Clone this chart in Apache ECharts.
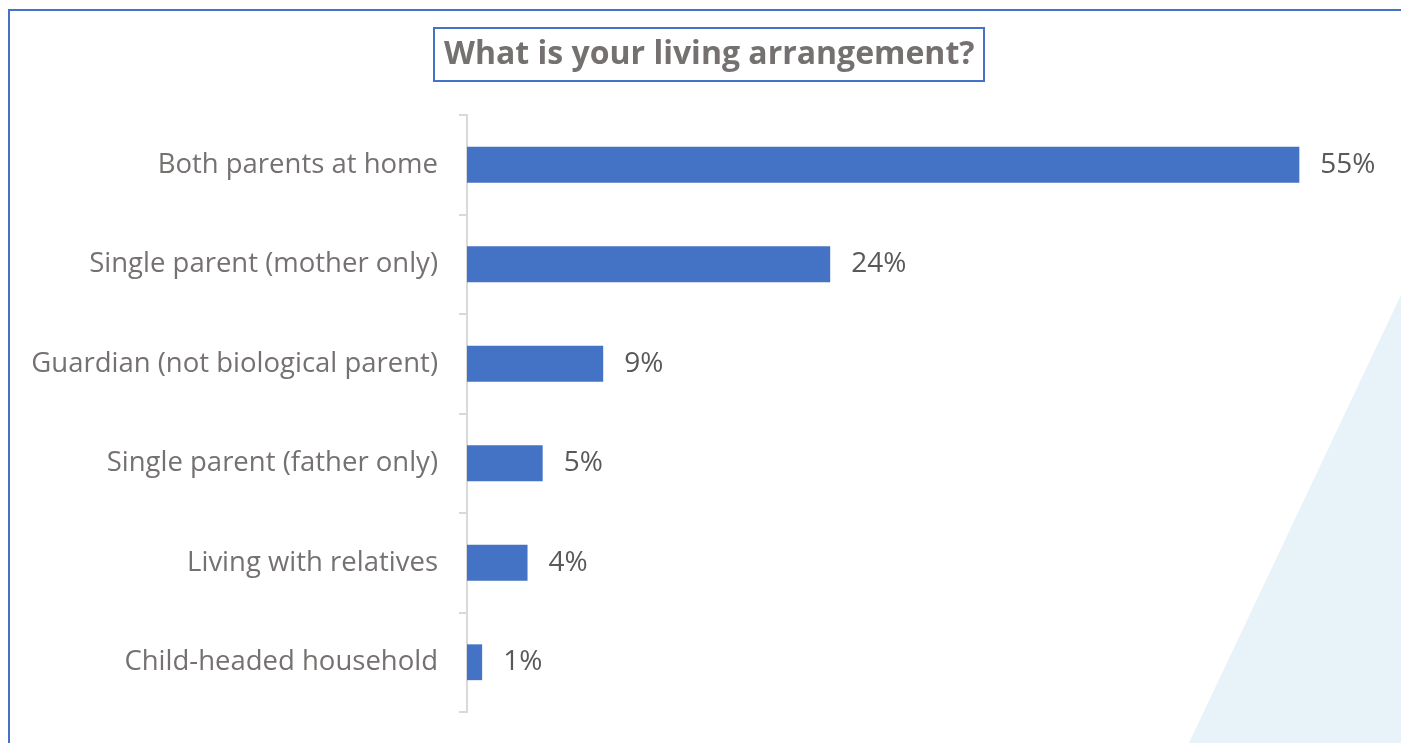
<!DOCTYPE html>
<html>
<head>
<meta charset="utf-8">
<script src="https://cdn.jsdelivr.net/npm/echarts@6/dist/echarts.min.js"></script>
<style>
  html, body { margin: 0; padding: 0; background: #ffffff; }
  #chart { width: 1401px; height: 743px; }
</style>
</head>
<body>
<div id="chart"></div>
<script>
// Survey answers, top to bottom
const categories = [
  'Both parents at home',
  'Single parent (mother only)',
  'Guardian (not biological parent)',
  'Single parent (father only)',
  'Living with relatives',
  'Child-headed household'
];
// Share of respondents, in percent
const shares = [55, 24, 9, 5, 4, 1];
const titleText = 'What is your living arrangement?';

const chart = echarts.init(document.getElementById('chart'), null, { renderer: 'canvas' });

chart.setOption({
  backgroundColor: '#ffffff',
  animation: false,
  title: {
    text: titleText,
    left: 434,
    top: 28,
    padding: [9, 10, 9, 10],
    borderColor: '#4472C4',
    borderWidth: 2,
    textStyle: {
      fontFamily: 'Open Sans',
      fontWeight: 'bold',
      fontSize: 32,
      lineHeight: 35,
      color: '#767171'
    }
  },
  graphic: [
    {
      type: 'polygon',
      z: -10,
      silent: true,
      shape: { points: [[1401, 295], [1189, 743], [1401, 743]] },
      style: { fill: '#E8F2F9' }
    },
    {
      type: 'polyline',
      z: 10,
      silent: true,
      shape: { points: [[9, 743], [9, 10], [1401, 10]] },
      style: { stroke: '#4472C4', lineWidth: 2, fill: null }
    }
  ],
  grid: {
    left: 467,
    right: 26,
    top: 115,
    bottom: 31,
    containLabel: false
  },
  xAxis: {
    type: 'value',
    min: 0,
    max: 60,
    show: false
  },
  yAxis: {
    type: 'category',
    inverse: true,
    data: categories,
    axisLine: { show: true, lineStyle: { color: '#D9D9D9', width: 2 } },
    axisTick: { show: true, length: 8, lineStyle: { color: '#D9D9D9', width: 2 } },
    axisLabel: {
      margin: 29,
      fontFamily: 'Open Sans',
      fontSize: 27.5,
      color: '#767171'
    },
    splitLine: { show: false }
  },
  series: [{
    type: 'bar',
    data: shares,
    barCategoryGap: '64%',
    itemStyle: { color: '#4472C4' },
    label: {
      show: true,
      position: 'right',
      distance: 21,
      formatter: p => p.value + '%',
      fontFamily: 'Open Sans',
      fontSize: 28,
      color: '#595959'
    }
  }]
});
</script>
</body>
</html>
